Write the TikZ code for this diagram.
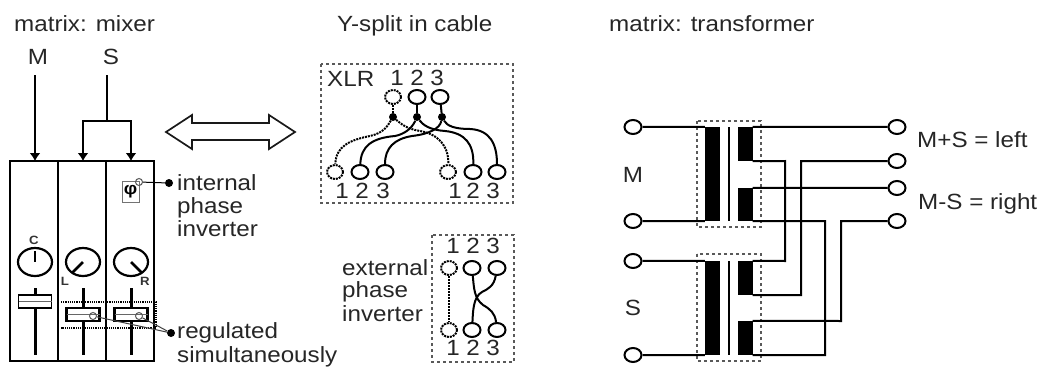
\documentclass[tikz,border=0pt]{standalone}
\usepackage{fontspec}
\setmainfont[FakeStretch=1.1]{Liberation Sans}
\usetikzlibrary{arrows.meta,shapes.geometric}
\def\fader(#1)(#2:#3)[#4]{\draw[line width=3pt] (#1, 288) -- (#1, 355);
	\draw[fill=white, line width=#4] (#1-16.5, #2) rectangle (#1+16.5, #3);
	\draw[line width=1pt, color=black!60] (#1-16.5, {(#2+#3)/2}) -- (#1+16.5, {(#2+#3)/2});}
\tikzset{
	txt/.style={anchor=base west, inner sep=0pt, text=black!85, font=\fontsize{22}{26}\selectfont},
	num/.style={anchor=base, inner sep=0pt, text=black!85, font=\fontsize{22}{26}\selectfont},
	small/.style={inner sep=0pt, text=black!80, font=\fontsize{12}{14}\selectfont\bfseries},
	term/.style={ellipse, draw, line width=2pt, fill=white, inner sep=0pt, minimum width=17pt, minimum height=14pt},
	deadterm/.style={ellipse, draw, densely dotted, line width=2pt, inner sep=0pt, minimum width=16pt, minimum height=14pt},
	joint/.style={circle, fill=black, inner sep=0pt, minimum size=8pt},
	ring/.style={circle, draw, color=black!65, line width=1pt, inner sep=0pt, minimum size=7pt},
	knob/.style={ellipse, draw, line width=2.2pt, inner sep=0pt, minimum width=34pt, minimum height=28pt},
	dashbox/.style={color=black!65, dashed, line width=1.4pt},
	core/.style={fill=black, inner sep=0pt, minimum width=15pt, minimum height=#1},
	wire/.style={line width=2pt},
	sig/.style={line width=2.2pt, -{Latex[length=8pt,width=11pt]}}
}
\begin{document}
\begin{tikzpicture}[x=1pt, y=-1pt]
			%%%%% START %%%%%
			\useasboundingbox (0, 0) rectangle (1042, 378);
			
			\node[txt] (title1) at (14, 31) {matrix: mixer};
			\node[txt] (title2) at (337, 31) {Y-split in cable};
			\node[txt] (title3) at (609, 31) {matrix: transformer};
			
			% mixer
			\node[num] (inM) at (38, 64) {M};
			\node[num] (inS) at (111, 64) {S};
			\draw[line width=2.4pt] (10, 161) rectangle (154, 361);
			\draw[line width=2.4pt] (58, 161) -- (58, 361);
			\draw[line width=2.4pt] (106, 161) -- (106, 361);
			\coordinate (mtop) at (35, 75);
			\coordinate (stop) at (107, 75);
			\coordinate (sfork) at (107, 121);
			\draw[sig] (mtop) -- (35, 161);
			\draw[wire] (stop) -- (sfork);
			\draw[sig] (sfork) -| (83, 161);
			\draw[sig] (sfork) -| (131, 161);
			
			\draw[color=black!55, line width=1pt] (122, 181) rectangle (139, 202);
			\node[inner sep=0pt, font=\fontsize{17}{17}\selectfont\bfseries] (phi) at (130.5, 192) {φ};
			\node[ring] (phring) at (139, 182) {};
			\node[joint] (phjoint) at (169, 183) {};
			\draw[line width=1pt] (phring) -- (phjoint);
			\node[txt] (int1) at (177, 190) {internal};
			\node[txt] (int2) at (177, 213) {phase};
			\node[txt] (int3) at (177, 236) {inverter};
			
			\node[knob] (knobC) at (35, 262) {};
			\node[knob] (knobL) at (83, 262) {};
			\node[knob] (knobR) at (131, 262) {};
			\draw[line width=2.5pt] (35, 251) -- (knobC.center);
			\draw[line width=2.5pt] (72, 273) -- (knobL.center);
			\draw[line width=2.5pt] (142, 273) -- (knobR.center);
			\node[small] (labC) at (34, 240) {C};
			\node[small] (labL) at (65, 281) {L};
			\node[small] (labR) at (145, 281) {R};
			
			\fader(35)(295:308)[1.5pt]
			\fader(83)(308:321)[2.5pt]
			\fader(131)(308:321)[2.5pt]
			
			\draw[densely dotted, line width=1.2pt] (61, 302) -- (156, 302) -- (156, 328) -- (61, 328);
			\node[ring] (ringL) at (93, 316) {};
			\node[ring] (ringR) at (139, 316) {};
			\node[joint] (regjoint) at (171, 333) {};
			\draw[line width=1pt, color=black!75] (ringL) -- (regjoint);
			\draw[line width=1pt, color=black!75] (ringR) -- (regjoint);
			\node[txt] (reg1) at (177, 338) {regulated};
			\node[txt] (reg2) at (177, 362) {simultaneously};
			
			% double arrow
			\draw[line width=1.7pt, color=black!90] (166, 132) -- (192, 115) -- (192, 123) -- (269, 123) -- (269, 115) -- (295, 132) -- (269, 149) -- (269, 140) -- (192, 140) -- (192, 149) -- cycle;
			
			% Y-split
			\draw[dashbox] (321, 64) rectangle (513, 203);
			\node[txt] (xlr) at (327, 86) {XLR};
			\node[num] (yt1) at (397, 85) {1};
			\node[num] (yt2) at (417, 85) {2};
			\node[num] (yt3) at (437, 85) {3};
			\node[deadterm] (ya1) at (393, 97) {};
			\node[term] (ya2) at (417, 97) {};
			\node[term] (ya3) at (440, 97) {};
			\node[joint] (yj1) at (393, 117) {};
			\node[joint] (yj2) at (417, 117) {};
			\node[joint] (yj3) at (442, 117) {};
			\node[deadterm] (yb1) at (335, 172) {};
			\node[term] (yb2) at (360, 172) {};
			\node[term] (yb3) at (385, 172) {};
			\node[deadterm] (yc1) at (448, 172) {};
			\node[term] (yc2) at (473, 172) {};
			\node[term] (yc3) at (497, 172) {};
			\node[num] (yl1) at (342, 198) {1};
			\node[num] (yl2) at (362, 198) {2};
			\node[num] (yl3) at (383, 198) {3};
			\node[num] (yr1) at (455, 198) {1};
			\node[num] (yr2) at (473, 198) {2};
			\node[num] (yr3) at (493, 198) {3};
			\draw[wire, densely dotted] (ya1) -- (yj1);
			\draw[wire] (ya2) -- (yj2);
			\draw[wire] (ya3) -- (yj3);
			\draw[wire, densely dotted] (yj1) .. controls (387, 127) and (383, 133) .. (370, 136) .. controls (350, 140) and (336, 146) .. (yb1);
			\draw[wire, densely dotted] (yj1) .. controls (402, 125) and (408, 129) .. (420, 131) .. controls (438, 134) and (449, 146) .. (yc1);
			\draw[wire] (yj2) .. controls (412, 128) and (405, 134) .. (395, 136) .. controls (372, 138) and (361, 146) .. (yb2);
			\draw[wire] (yj2) .. controls (423, 125) and (430, 130) .. (445, 131) .. controls (465, 133) and (474, 144) .. (yc2);
			\draw[wire] (yj3) .. controls (440, 128) and (430, 134) .. (412, 136) .. controls (394, 139) and (385, 148) .. (yb3);
			\draw[wire] (yj3) .. controls (447, 126) and (455, 129) .. (470, 129) .. controls (490, 130) and (497, 144) .. (yc3);
			
			% external inverter
			\draw[dashbox] (432, 235) rectangle (514, 362);
			\node[txt] (ext1) at (342, 275) {external};
			\node[txt] (ext2) at (342, 297) {phase};
			\node[txt] (ext3) at (342, 321) {inverter};
			\node[num] (et1) at (453, 253) {1};
			\node[num] (et2) at (473, 253) {2};
			\node[num] (et3) at (493, 253) {3};
			\node[deadterm] (ea1) at (449, 268) {};
			\node[term] (ea2) at (472, 268) {};
			\node[term] (ea3) at (497, 268) {};
			\node[deadterm] (eb1) at (449, 330) {};
			\node[term] (eb2) at (472, 330) {};
			\node[term] (eb3) at (497, 330) {};
			\node[num] (eu1) at (453, 355) {1};
			\node[num] (eu2) at (473, 355) {2};
			\node[num] (eu3) at (493, 355) {3};
			\draw[wire, densely dotted] (ea1) -- (eb1);
			\draw[wire] (ea2) .. controls (474, 288) and (474, 298) .. (483, 305) .. controls (490, 309) and (495, 313) .. (eb3);
			\draw[wire] (ea3) .. controls (494, 286) and (488, 289) .. (482, 292) .. controls (473, 297) and (473, 312) .. (eb2);
			
			% transformer
			\draw[dashbox] (697, 121) rectangle (761, 227);
			\draw[dashbox] (697, 254) rectangle (761, 361);
			\node[core=94pt] (pA) at (712.5, 174) {};
			\node[core=94pt] (pB) at (712.5, 308) {};
			\node[core=34pt] (sA) at (745, 144) {};
			\node[core=33pt] (sB) at (745, 204.5) {};
			\node[core=34pt] (sC) at (745, 278) {};
			\node[core=34pt] (sD) at (745, 338) {};
			\draw[line width=2.5pt] (729, 127) -- (729, 221);
			\draw[line width=2.5pt] (729, 261) -- (729, 355);
			
			\node[term] (l1) at (633, 127) {};
			\node[term] (l2) at (633, 221) {};
			\node[term] (l3) at (633, 261) {};
			\node[term] (l4) at (633, 355) {};
			\node[term] (r1) at (897, 127) {};
			\node[term] (r2) at (897, 161) {};
			\node[term] (r3) at (897, 188) {};
			\node[term] (r4) at (897, 221) {};
			\node[num] (labM) at (633, 182) {M};
			\node[num] (labS) at (633, 315) {S};
			\node[txt] (left) at (917, 147) {M+S = left};
			\node[txt] (right) at (918, 209) {M-S = right};
			
			\draw[wire] (l1) -- (pA.north west);
			\draw[wire] (l2) -- (pA.south west);
			\draw[wire] (l3) -- (pB.north west);
			\draw[wire] (l4) -- (pB.south west);
			\draw[wire] (sA.north east) -- (r1);
			\draw[wire] (sA.south east) -- (785, 161) -- (785, 261) -- (sC.north east);
			\draw[wire] (r2) -- (801, 161) -- (801, 295) -- (sC.south east);
			\draw[wire] (sB.north east) -- (r3);
			\draw[wire] (sB.south east) -- (825, 221) -- (825, 355) -- (sD.south east);
			\draw[wire] (r4) -- (841, 221) -- (841, 321) -- (sD.north east);
			
			%%%%% END %%%%%
\end{tikzpicture}
\end{document}
